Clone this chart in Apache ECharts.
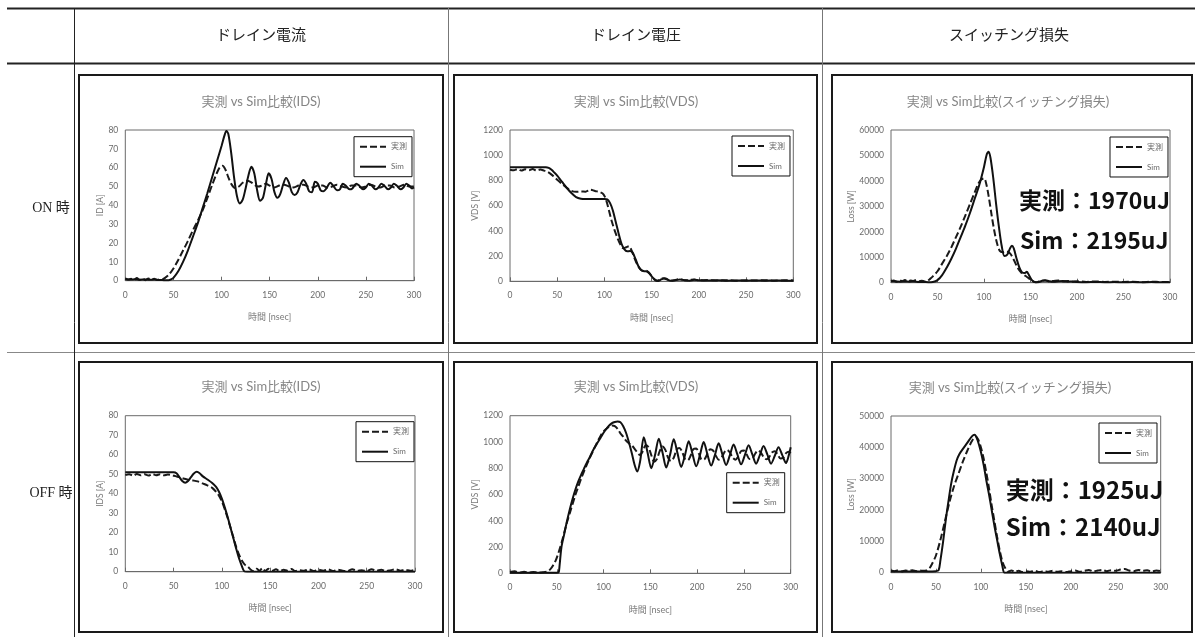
<!DOCTYPE html>
<html><head><meta charset="utf-8">
<script src="https://cdn.jsdelivr.net/npm/echarts@6/dist/echarts.min.js"></script>
<style>html,body{margin:0;padding:0;background:#fff}#c{width:1195px;height:637px}</style>
</head><body><div id="c"></div>
<script>
// ---------------- DATA ----------------
const headers = ['ドレイン電流', 'ドレイン電圧', 'スイッチング損失'];
const rowLabels = ['ON 時', 'OFF 時'];
const chartTitles = ['実測 vs Sim比較(IDS)', '実測 vs Sim比較(VDS)', '実測 vs Sim比較(スイッチング損失)',
                     '実測 vs Sim比較(IDS)', '実測 vs Sim比較(VDS)', '実測 vs Sim比較(スイッチング損失)'];
const yNames = ['ID [A]', 'VDS [V]', 'Loss [W]', 'IDS [A]', 'VDS [V]', 'Loss [W]'];
const xName = '時間 [nsec]';
const seriesNames = ['実測', 'Sim'];
const lossTexts = [['実測：1970uJ', 'Sim：2195uJ'], ['実測：1925uJ', 'Sim：2140uJ']];
const xMin = 0, xMax = 300, xStep = 50;
const yMax = [80, 1200, 60000, 80, 1200, 50000];
const yStep = [10, 200, 10000, 10, 200, 10000];

// ON: drain current [ns, A]
const onIdMeas = [[0,1.2],[3,0.6],[6,1.0],[9,0.4],[12,1.4],[15,0.5],[18,1.1],[21,0.3],[24,1.2],[27,0.6],[30,1.0],[33,0.4],[36,0.7],[39,0.8],[42,1.8],[45,3],[50,6.5],[55,11],[60,16],[65,21],[70,26.5],[75,31.5],[80,37],[85,43.5],[90,50.5],[95,57],[98,60],[101,61],[104,59],[107,55],[110,51.5],[114,49.2],[118,50],[122,52],[126,53],[130,52.5],[134,51],[138,50],[142,50.5],[146,51.5],[150,50.5],[155,49.5],[160,50.5],[165,51],[170,50],[175,49.5],[180,50.5],[185,51],[190,50],[195,49.5],[200,50.5],[205,50.5],[210,49.5],[215,50],[220,51],[225,50],[230,49.5],[235,50.5],[240,50.5],[245,49.5],[250,50],[255,51],[260,50],[265,49.5],[270,50.5],[275,50.5],[280,49.5],[285,50],[290,51],[295,50],[300,50]];
const onIdSim = [[0,0.8],[5,0.6],[10,0.8],[15,0.5],[20,0.7],[25,0.5],[30,0.6],[35,0.4],[40,0.3],[45,0.2],[48,0.8],[50,1.5],[55,5],[60,10],[65,16],[70,23],[75,30],[80,38],[85,46],[90,54.5],[95,63],[100,71.5],[103,77],[105,79.5],[107,78],[110,68],[113,55],[116,45],[119,41],[122,43],[125,49],[128,56],[131,60.5],[134,57],[137,48],[140,42.5],[143,44],[146,51],[149,57],[152,54],[155,47],[158,44],[161,46],[164,51],[167,54.5],[170,52],[173,47],[176,45.5],[179,47],[182,51],[185,53.5],[188,51.5],[191,47.5],[194,47],[197,52.5],[200,51.5],[203,48],[206,47.5],[209,49],[213,52],[216,50.5],[220,48],[223,48.5],[226,51.5],[229,50.5],[233,48.5],[236,49],[240,51.5],[243,50.5],[247,48.5],[250,49.5],[253,51.5],[256,50.5],[260,48.5],[263,49.5],[266,51.5],[269,50.5],[273,48.5],[276,49.5],[279,51.5],[282,50.5],[286,48.5],[289,49.5],[292,51.5],[295,50.5],[298,49],[300,49.5]];

// ON: drain voltage [ns, V]
const onVdsMeas = [[0,885],[4,880],[8,890],[12,878],[16,888],[20,880],[24,890],[28,879],[32,886],[36,878],[40,868],[45,840],[50,805],[55,772],[60,742],[65,718],[70,710],[75,712],[80,711],[85,727],[90,716],[95,708],[99,690],[102,640],[105,555],[108,470],[111,400],[114,340],[117,290],[120,262],[123,270],[126,278],[129,240],[132,180],[135,130],[138,95],[141,82],[144,84],[147,70],[150,40],[153,15],[156,5],[160,22],[164,25],[168,10],[172,5],[176,12],[180,18],[185,8],[190,10],[195,15],[200,8],[210,10],[220,6],[230,9],[240,5],[250,8],[260,6],[270,9],[280,5],[290,8],[300,7]];
const onVdsSim = [[0,905],[10,905],[20,905],[30,905],[38,905],[41,900],[44,885],[47,862],[50,838],[55,790],[60,742],[65,700],[70,668],[75,655],[80,652],[90,652],[100,653],[103,650],[106,620],[109,560],[112,470],[115,380],[118,300],[121,255],[124,238],[127,240],[130,225],[133,175],[136,120],[139,90],[142,80],[145,78],[148,60],[151,30],[154,8],[157,3],[160,15],[163,22],[166,15],[170,5],[175,8],[180,15],[185,8],[190,5],[195,12],[200,8],[210,6],[220,8],[230,5],[240,6],[250,5],[260,6],[270,5],[280,6],[290,5],[300,5]];

// ON: switching loss [ns, W]
const onLossMeas = [[0,500],[3,900],[6,400],[9,1000],[12,600],[15,1100],[18,500],[21,900],[24,700],[27,1100],[30,600],[33,800],[36,500],[39,700],[42,1500],[45,2500],[50,4500],[55,7500],[60,10500],[65,14000],[70,18000],[75,22000],[80,26500],[85,31000],[90,35500],[94,39000],[97,40500],[100,41000],[102,39500],[105,34000],[108,27000],[111,20500],[114,15500],[117,12500],[120,12000],[124,12300],[128,11500],[132,9000],[136,6000],[140,4000],[144,2800],[148,1800],[152,700],[156,200],[160,600],[165,900],[170,500],[175,700],[180,900],[185,500],[190,700],[195,400],[200,600],[210,300],[220,500],[230,300],[240,400],[250,300],[260,400],[270,200],[280,400],[290,300],[300,300]];
const onLossSim = [[0,600],[5,500],[10,400],[15,500],[20,400],[25,500],[30,300],[35,300],[40,200],[45,300],[50,1000],[55,3000],[60,6000],[65,9500],[70,13500],[75,18000],[80,22500],[85,27500],[90,33000],[95,38500],[100,45500],[103,50500],[105,51500],[107,49000],[110,41000],[113,31000],[116,22000],[119,14500],[122,10500],[125,11000],[128,13500],[130,14500],[132,13500],[135,9500],[138,6000],[141,4000],[144,3800],[146,4300],[148,3200],[151,1200],[154,300],[158,200],[162,700],[166,1000],[170,600],[175,400],[180,600],[185,700],[190,400],[195,500],[200,300],[210,200],[220,300],[230,200],[240,250],[250,200],[260,250],[270,200],[280,250],[290,200],[300,200]];

// OFF: drain current [ns, A]
const offIdMeas = [[0,49.5],[4,50],[8,49.2],[12,50.1],[16,49.4],[20,50],[24,49.3],[28,50.1],[32,49.5],[36,50],[40,49.4],[44,49.8],[48,49.5],[52,49],[56,48.5],[60,47.8],[65,47.2],[70,46.8],[75,46.3],[80,45.3],[85,44.3],[90,43],[94,41],[97,39],[100,36],[103,32],[106,27.5],[109,22.5],[112,17.5],[115,12.5],[118,8.5],[121,5.5],[124,3.5],[127,2.5],[130,1],[133,0.3],[136,1.5],[139,0.5],[142,1.8],[145,0.3],[148,1.5],[152,0.5],[156,1.2],[160,0.3],[164,1],[168,0.5],[172,1.4],[176,0.3],[180,0.8],[185,0.5],[190,1.2],[195,0.3],[200,1],[205,0.5],[210,1.2],[215,0.3],[220,1],[225,0.5],[230,0.3],[235,1.2],[240,0.5],[245,0.8],[250,0.3],[255,1.2],[260,0.5],[265,1],[270,0.3],[275,0.8],[280,1.2],[285,0.5],[290,1],[295,0.5],[300,1]];
const offIdSim = [[0,51],[10,51],[20,51],[30,51],[40,51],[50,51],[53,50.5],[56,48.5],[59,46.5],[62,45.6],[65,46.5],[68,48.5],[71,50.3],[74,51.2],[77,50.5],[80,49],[85,47.3],[90,45.5],[94,43.5],[97,41],[100,37.5],[103,33],[106,28],[109,22.5],[112,17],[115,11.5],[118,6.5],[121,2.5],[123,0.3],[126,0],[140,0],[160,0],[200,0],[250,0],[300,0]];

// OFF: drain voltage [ns, V]
const offVdsMeas = [[0,10],[5,15],[10,5],[15,12],[20,6],[25,10],[30,5],[35,8],[40,15],[43,30],[46,60],[49,100],[52,160],[55,230],[58,310],[61,390],[64,460],[67,530],[70,600],[73,660],[76,720],[79,775],[82,825],[85,875],[88,920],[91,965],[94,1010],[97,1050],[100,1080],[103,1100],[106,1115],[109,1125],[112,1120],[115,1100],[118,1065],[121,1040],[124,1010],[127,990],[130,975],[133,950],[136,920],[139,900],[142,930],[145,975],[148,960],[151,900],[154,850],[157,870],[160,930],[163,965],[166,940],[169,880],[172,855],[175,880],[178,940],[181,955],[184,925],[187,870],[190,860],[193,895],[196,945],[199,950],[202,910],[205,865],[208,870],[211,910],[214,945],[217,935],[220,895],[223,865],[226,880],[229,920],[232,940],[235,920],[238,880],[241,865],[244,890],[247,930],[250,935],[253,905],[256,870],[259,875],[262,910],[265,935],[268,920],[271,885],[274,868],[277,885],[280,920],[283,930],[286,905],[289,875],[292,880],[295,915],[298,925],[300,915]];
const offVdsSim = [[0,5],[10,5],[20,5],[30,5],[40,5],[50,5],[52,8],[53,60],[55,200],[58,300],[61,400],[64,490],[67,570],[70,640],[73,700],[76,750],[79,795],[82,840],[85,880],[88,925],[91,965],[94,1000],[97,1035],[100,1070],[103,1100],[106,1125],[109,1143],[112,1152],[115,1155],[118,1150],[121,1120],[124,1070],[127,1000],[130,920],[133,830],[136,775],[139,850],[143,1035],[147,920],[151,800],[155,900],[159,1025],[163,920],[167,805],[171,900],[175,1020],[179,915],[183,810],[187,900],[191,1005],[195,910],[199,815],[203,900],[207,1000],[211,905],[215,820],[219,900],[223,990],[227,905],[231,825],[235,900],[239,980],[243,905],[247,830],[251,900],[255,975],[259,905],[263,835],[267,900],[271,970],[275,905],[279,835],[283,895],[287,960],[291,900],[295,840],[298,900],[300,960]];

// OFF: switching loss [ns, W]
const offLossMeas = [[0,700],[4,500],[8,800],[12,400],[16,700],[20,600],[24,800],[28,500],[32,700],[36,600],[40,800],[43,1500],[46,3000],[50,5500],[55,10500],[60,16500],[65,22500],[70,27500],[75,31500],[80,35500],[85,39000],[90,42000],[94,43500],[97,42500],[100,40000],[103,36500],[106,32000],[109,27000],[112,21500],[115,16500],[118,11500],[121,7000],[124,3500],[127,1500],[130,300],[134,700],[138,300],[142,600],[146,200],[150,500],[155,300],[160,600],[165,200],[170,500],[175,300],[180,600],[185,300],[190,500],[195,200],[200,500],[205,700],[210,300],[215,600],[220,900],[225,400],[230,700],[235,900],[240,500],[245,800],[250,600],[255,1000],[260,1200],[265,700],[270,500],[275,900],[280,600],[285,800],[290,400],[295,700],[300,500]];
const offLossSim = [[0,400],[10,400],[20,400],[30,400],[40,400],[50,500],[53,800],[55,4000],[58,10000],[61,17000],[64,23000],[67,28500],[70,32500],[73,35800],[76,37800],[80,39500],[85,41500],[90,43500],[93,44000],[96,42500],[100,38500],[103,34500],[106,29500],[109,25000],[112,20000],[115,15000],[118,10500],[121,6000],[124,2000],[126,0],[130,0],[150,0],[200,0],[250,0],[300,0]];

const measSets = [onIdMeas, onVdsMeas, onLossMeas, offIdMeas, offVdsMeas, offLossMeas];
const simSets = [onIdSim, onVdsSim, onLossSim, offIdSim, offVdsSim, offLossSim];

// ---------------- LAYOUT ----------------
const F = "Lato, 'Noto Sans CJK JP', sans-serif";
const JP = "'Noto Sans CJK JP', sans-serif";
const SERIF = "'Liberation Serif', 'Noto Sans CJK JP', serif";
const grids = [
  {left:125.3, top:130, width:288.7, height:150.7},
  {left:510, top:130, width:283.3, height:151.3},
  {left:891, top:130, width:279, height:152.7},
  {left:125.3, top:415.7, width:289.7, height:156},
  {left:510, top:415.7, width:280.7, height:157.6},
  {left:891, top:416, width:269.7, height:156.7}
];
const yNameGaps = [20, 30, 33, 20, 30, 33];
const legendPos = [[354,136.7],[732,136],[1110,137],[356,421.7],[726.7,472.7],[1099,423]];
const boxes = [[79,75,364,268],[454,75,363,268],[832,75,360,268],[79,362,364,270],[454,362,363,270],[832,362,360,270]];
const titlePos = [[261,101.7],[636,101.7],[1008,101.7],[261,386.7],[636,386.7],[1010,388]];
const annPos = [[[1019,200],[1020,240]],[[1005.7,490],[1005.7,526.7]]];
const annSize = [23, 24];

const grid = [], xAxis = [], yAxis = [], series = [], legend = [], graphic = [];
for (let i = 0; i < 6; i++) {
  grid.push(Object.assign({show:true, borderColor:'#6a6a6a', borderWidth:1, backgroundColor:'#fff'}, grids[i]));
  xAxis.push({
    type:'value', gridIndex:i, min:xMin, max:xMax, interval:xStep,
    name:xName, nameLocation:'middle', nameGap:32,
    nameTextStyle:{fontFamily:F, fontSize:9, color:'#7a7a7a'},
    axisLine:{show:true, lineStyle:{color:'#6a6a6a'}},
    axisTick:{show:true, inside:true, length:4, lineStyle:{color:'#6a6a6a'}},
    axisLabel:{fontFamily:F, fontSize:8.5, color:'#6a6a6a', margin:10},
    splitLine:{show:false}
  });
  yAxis.push({
    type:'value', gridIndex:i, min:0, max:yMax[i], interval:yStep[i],
    name:yNames[i], nameLocation:'middle', nameGap:yNameGaps[i],
    nameTextStyle:{fontFamily:F, fontSize:8.5, color:'#7a7a7a'},
    axisLine:{show:false}, axisTick:{show:false},
    axisLabel:{fontFamily:F, fontSize:8.5, color:'#6a6a6a', margin:7, formatter:v => String(v)},
    splitLine:{show:false}
  });
  series.push({
    name:seriesNames[0], type:'line', xAxisIndex:i, yAxisIndex:i, data:measSets[i],
    showSymbol:false, symbol:'none', smooth:0.3, animation:false,
    lineStyle:{color:'#1a1a1a', width:2, type:[7,3]}, itemStyle:{color:'#1a1a1a'}
  });
  series.push({
    name:seriesNames[1], type:'line', xAxisIndex:i, yAxisIndex:i, data:simSets[i],
    showSymbol:false, symbol:'none', smooth:0.3, animation:false,
    lineStyle:{color:'#111', width:2, type:'solid'}, itemStyle:{color:'#111'}
  });
  legend.push({
    orient:'vertical', left:legendPos[i][0], top:legendPos[i][1], data:seriesNames,
    itemWidth:26, itemHeight:8, itemGap:12, padding:[6,5,6,5],
    borderColor:'#111', borderWidth:1, backgroundColor:'#fff', selectedMode:false,
    itemStyle:{opacity:0, borderWidth:0},
    textStyle:{fontFamily:F, fontSize:8, color:'#6a6a6a'}
  });
  graphic.push({type:'rect', shape:{x:boxes[i][0], y:boxes[i][1], width:boxes[i][2], height:boxes[i][3]},
    style:{fill:null, stroke:'#1a1a1a', lineWidth:2}, silent:true, z:10});
  graphic.push({type:'text', x:titlePos[i][0], y:titlePos[i][1],
    style:{text:chartTitles[i], fill:'#858585', font:'13px ' + F, align:'center', verticalAlign:'middle', textAlign:'center', textVerticalAlign:'middle'}, z:10});
}
// loss annotations
for (let r = 0; r < 2; r++) {
  for (let k = 0; k < 2; k++) {
    graphic.push({type:'text', x:annPos[r][k][0], y:annPos[r][k][1],
      style:{text:lossTexts[r][k], fill:'#111', font:'bold ' + annSize[r] + 'px ' + JP, align:'left', verticalAlign:'middle', textAlign:'left', textVerticalAlign:'middle'}, z:20});
  }
}
// table lines
const tl = (x1,y1,x2,y2,w,c) => graphic.push({type:'line', shape:{x1,y1,x2,y2}, style:{stroke:c, lineWidth:w}, silent:true, z:5});
tl(7,8.5,1195,8.5,2,'#222');
tl(7,63.5,1195,63.5,2,'#222');
tl(7,352.5,1195,352.5,1,'#888');
tl(74.5,8,74.5,637,1,'#222');
tl(448.5,8,448.5,637,1,'#777');
tl(822.5,8,822.5,637,1,'#777');
// headers
const headerX = [261, 636, 1009];
headers.forEach((h, j) => graphic.push({type:'text', x:headerX[j], y:36,
  style:{text:h, fill:'#222', font:'15px ' + SERIF, align:'center', verticalAlign:'middle', textAlign:'center', textVerticalAlign:'middle'}, z:10}));
const rowY = [208, 493];
rowLabels.forEach((t, r) => graphic.push({type:'text', x:51, y:rowY[r],
  style:{text:t, fill:'#222', font:'14px ' + SERIF, align:'center', verticalAlign:'middle', textAlign:'center', textVerticalAlign:'middle'}, z:10}));

const chart = echarts.init(document.getElementById('c'), null, {renderer:'canvas'});
chart.setOption({backgroundColor:'#fff', animation:false, grid, xAxis, yAxis, series, legend, graphic});
</script></body></html>
